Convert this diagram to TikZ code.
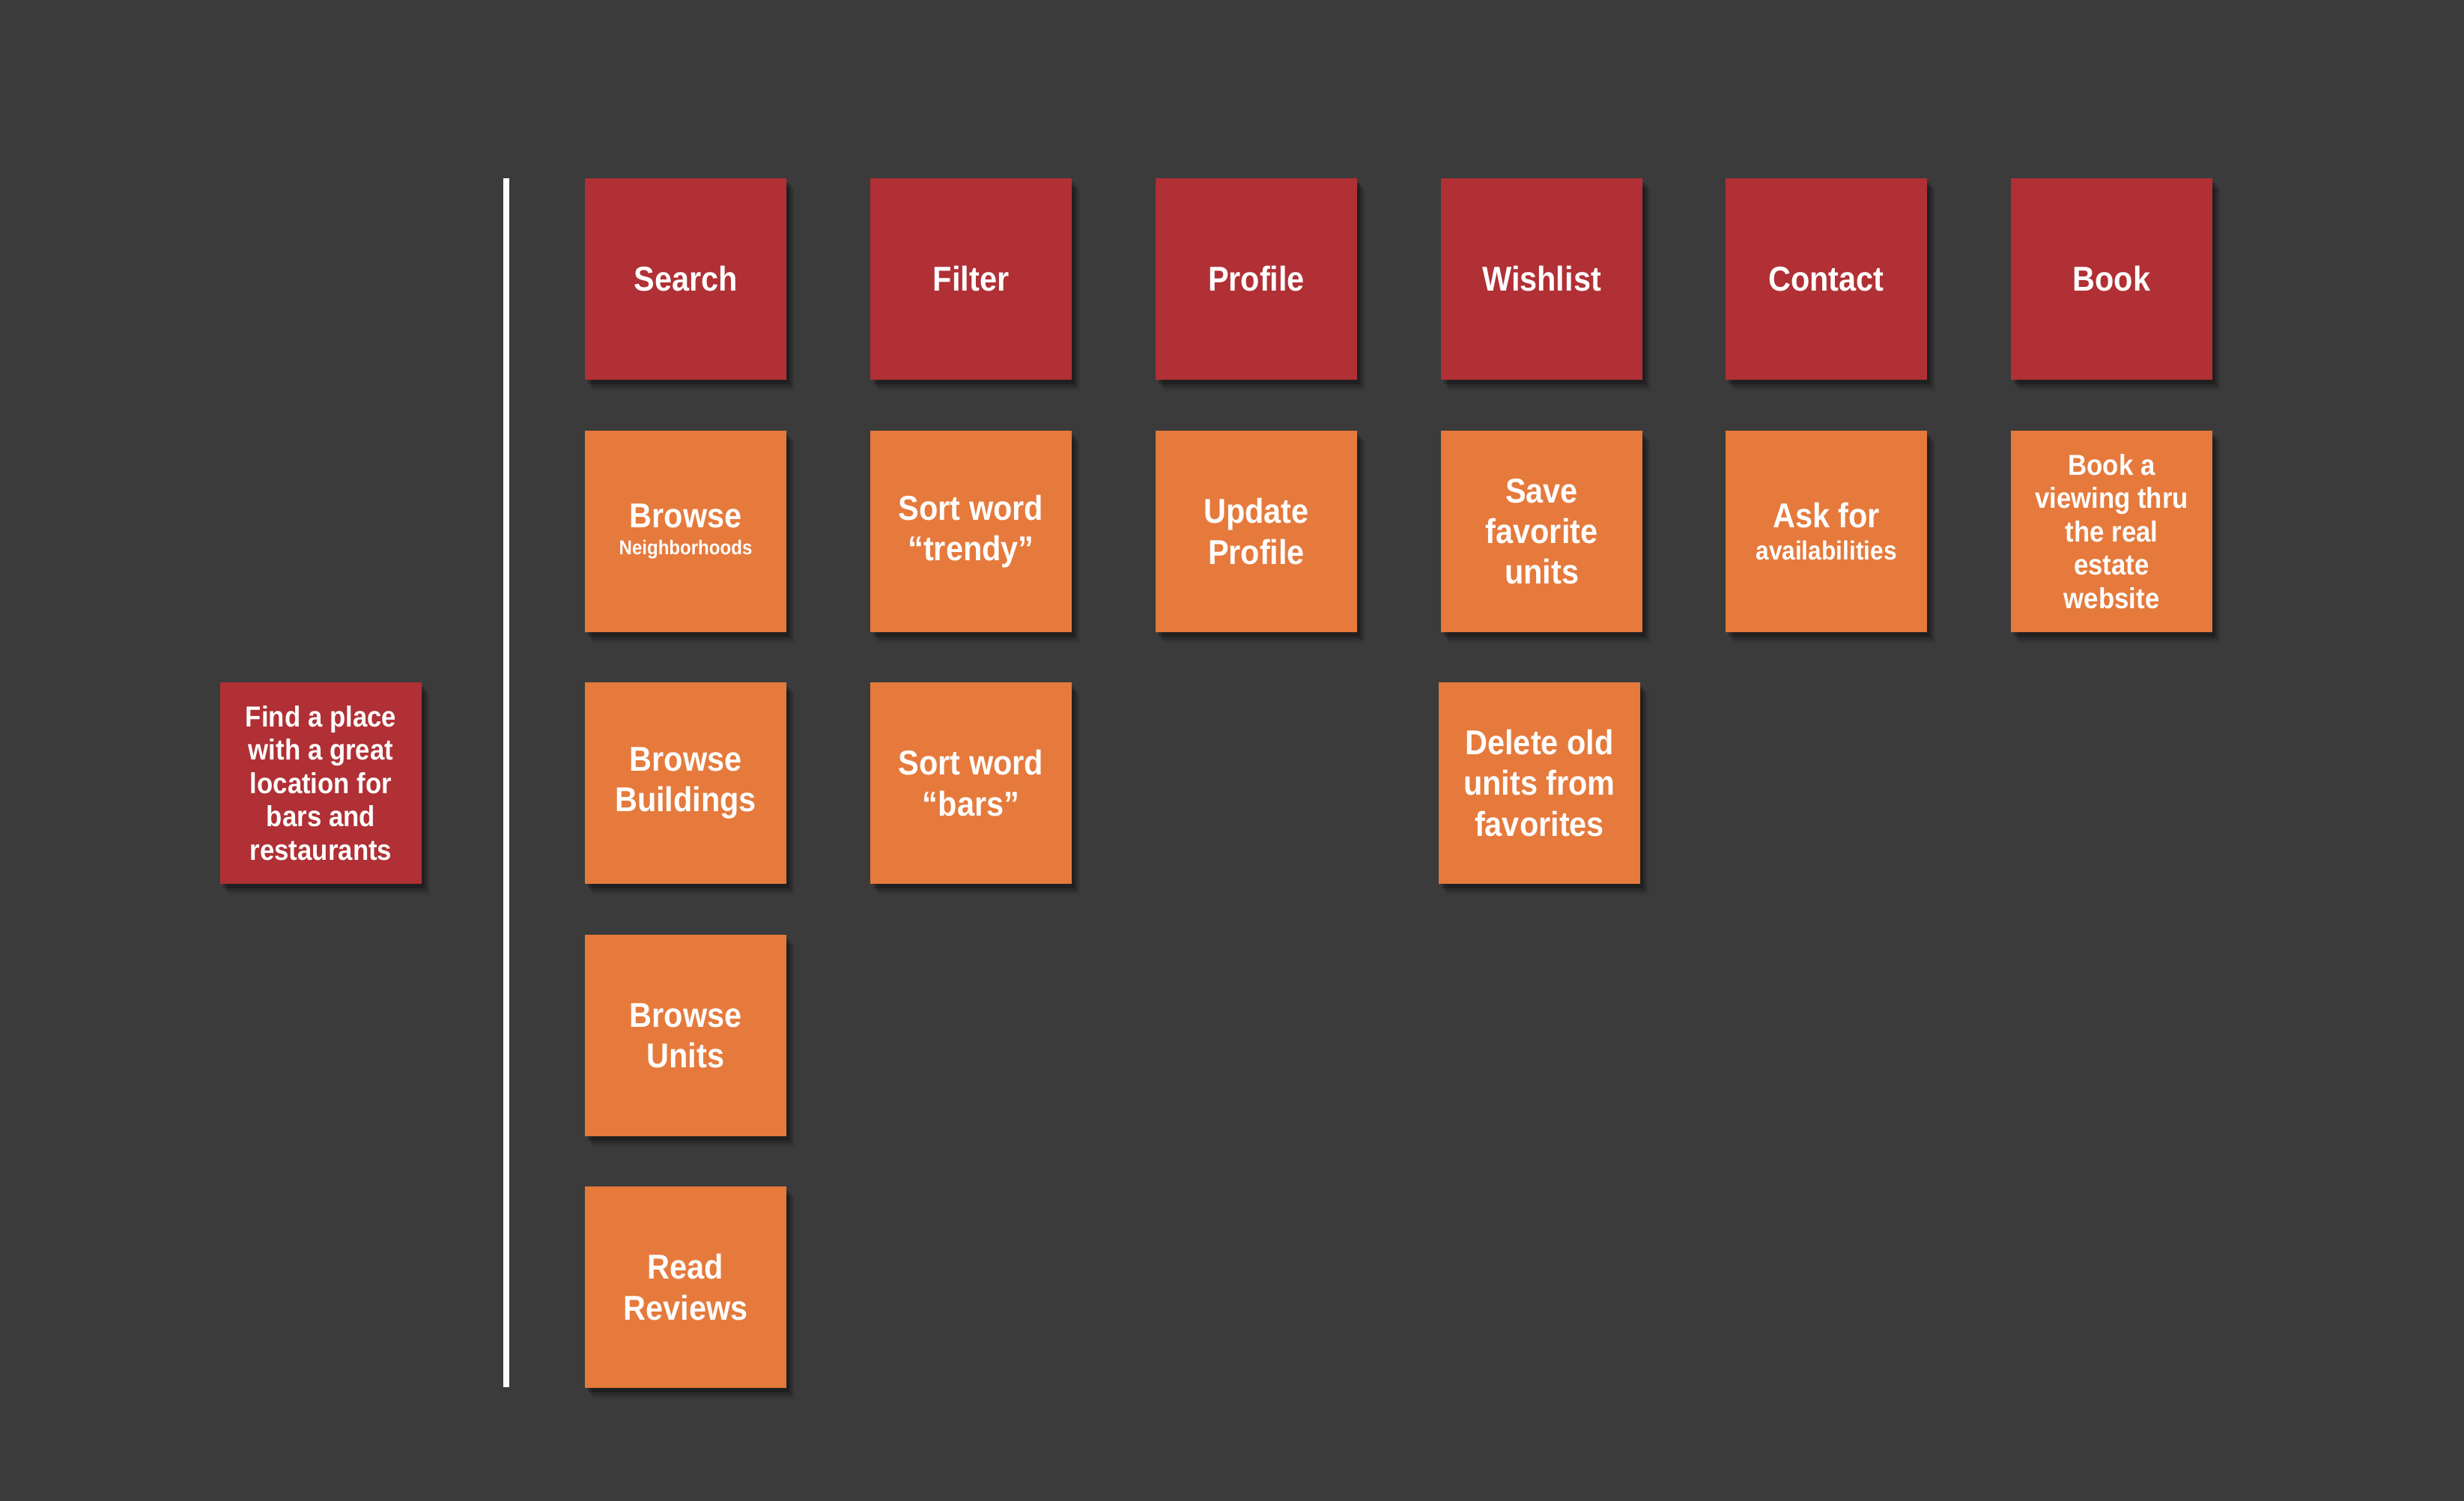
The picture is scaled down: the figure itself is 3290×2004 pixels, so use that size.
\documentclass[tikz,border=0pt]{standalone}
\usepackage{fontspec}
\newfontfamily\boxfont{Liberation Sans}[FakeStretch=0.9]
\usetikzlibrary{shadows}
\definecolor{bgcol}{HTML}{3B3B3B}
\definecolor{cardred}{HTML}{B03035}
\definecolor{cardorange}{HTML}{E57A3C}
\tikzset{
  shadowed/.style={
    drop shadow={shadow xshift=0.11cm, shadow yshift=-0.15cm, opacity=0.06, fill=black},
    drop shadow={shadow xshift=0.09cm, shadow yshift=-0.12cm, opacity=0.10, fill=black},
    drop shadow={shadow xshift=0.07cm, shadow yshift=-0.09cm, opacity=0.14, fill=black},
    drop shadow={shadow xshift=0.04cm, shadow yshift=-0.06cm, opacity=0.22, fill=black}},
  card/.style={shadowed, minimum width=2.69cm, minimum height=2.69cm, inner sep=0pt,
    text=white, align=center, font=\boxfont\bfseries\fontsize{13.1}{15.4}\selectfont},
  redcard/.style={card, fill=cardred},
  orangecard/.style={card, fill=cardorange},
  smalltxt/.style={font=\boxfont\bfseries\fontsize{11}{12.7}\selectfont},
  divider/.style={draw=white, line width=0.08cm}
}
\begin{document}
\begin{tikzpicture}[x=0.01cm, y=-0.01cm]
\fill[bgcol] (0,0) rectangle (3290,2004);
\useasboundingbox (0,0) rectangle (3290,2004);
% divider
\coordinate (ltop) at (676,238);
\coordinate (lbot) at (676,1852);
\draw[divider] (ltop) -- (lbot);
% goal
\node[redcard, smalltxt] (goal) at (428.5,1045.5) {Find a place\\with a great\\location for\\bars and\\restaurants};
% header row
\node[redcard] (search)   at (915.5,372.5)  {Search};
\node[redcard] (filter)   at (1296.5,372.5) {Filter};
\node[redcard] (profile)  at (1677.5,372.5) {Profile};
\node[redcard] (wishlist) at (2058.5,372.5) {Wishlist};
\node[redcard] (contact)  at (2438.5,372.5) {Contact};
\node[redcard] (book)     at (2819.5,372.5) {Book};
% row 2
\node[orangecard] (browsen) at (915.5,709.5) {Browse\\[-5.2pt]{\fontsize{7.6}{9}\selectfont Neighborhoods}};
\node[orangecard] (trendy)  at (1296.5,709.5) {Sort word\\“trendy”};
\node[orangecard] (update)  at (1677.5,709.5) {Update\\Profile};
\node[orangecard] (save)    at (2058.5,709.5) {Save\\favorite\\units};
\node[orangecard] (ask)     at (2438.5,709.5) {Ask for\\[-2.9pt]{\fontsize{10}{12}\selectfont availabilities}};
\node[orangecard, smalltxt] (viewing) at (2819.5,709.5) {Book a\\viewing thru\\the real\\estate\\website};
% row 3
\node[orangecard] (buildings) at (915.5,1045.5)  {Browse\\Buildings};
\node[orangecard] (bars)      at (1296.5,1045.5) {Sort word\\“bars”};
\node[orangecard] (delete)    at (2055.5,1045.5) {Delete old\\units from\\favorites};
% row 4, 5
\node[orangecard] (units)   at (915.5,1382.5) {Browse\\Units};
\node[orangecard] (reviews) at (915.5,1718.5) {Read\\Reviews};
\end{tikzpicture}
\end{document}
